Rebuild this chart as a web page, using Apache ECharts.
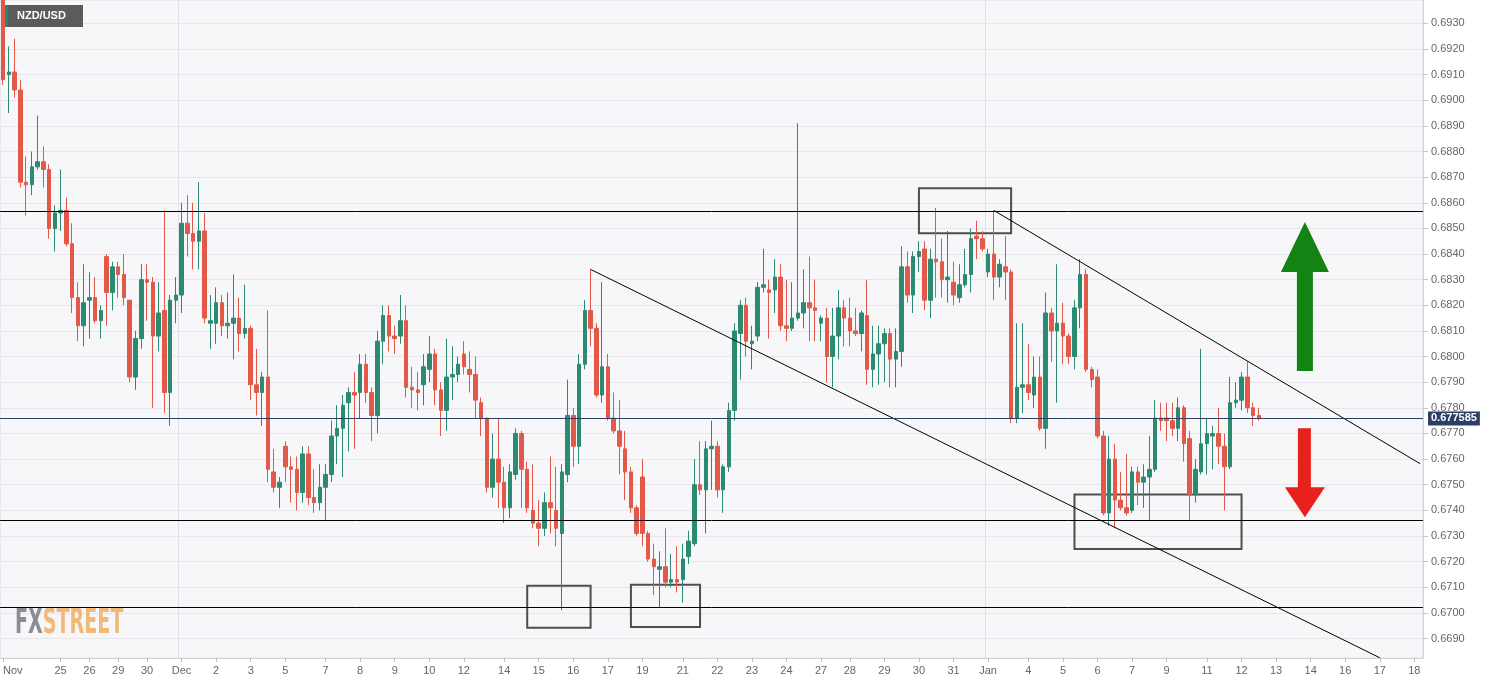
<!DOCTYPE html>
<html>
<head>
<meta charset="utf-8">
<script src="https://cdn.jsdelivr.net/npm/echarts@6.0.0/dist/echarts.min.js"></script>
<style>
html,body{margin:0;padding:0;background:#fff;}
#c{width:1501px;height:684px;}
</style>
</head>
<body>
<div id="c"></div>
<script>
// ---- DATA ----
const symbolName = 'NZD/USD';
const lastPrice = 0.677585;

const opens = [
0.6940,0.6910,0.6911,0.6904,0.6868,0.6867,0.6874,0.6876,0.6873,0.6850,
0.6856,0.6857,0.6844,0.6823,0.6812,0.6822,0.6823,0.6814,0.6839,0.6825,
0.6835,0.6832,0.6822,0.6792,0.6807,0.6830,0.6829,0.6808,0.6818,0.6786,
0.6822,0.6824,0.6852,0.6848,0.6845,0.6849,0.6813,0.6813,0.6821,0.6812,
0.6813,0.6815,0.6809,0.6811,0.6789,0.6786,0.6792,0.6755,0.6749,0.6765,
0.6757,0.6756,0.6747,0.6762,0.6745,0.6743,0.6749,0.6754,0.6769,0.6772,
0.6782,0.6786,0.6786,0.6797,0.6786,0.6777,0.6806,0.6816,0.6808,0.6808,
0.6814,0.6788,0.6787,0.6789,0.6795,0.6801,0.6787,0.6779,0.6792,0.6793,
0.6801,0.6795,0.6793,0.6782,0.6776,0.6749,0.6760,0.6751,0.6741,0.6754,
0.6770,0.6756,0.6740,0.6735,0.6733,0.6743,0.6740,0.6731,0.6754,0.6777,
0.6765,0.6797,0.6818,0.6811,0.6785,0.6796,0.6776,0.6771,0.6764,0.6755,
0.6741,0.6753,0.6731,0.6721,0.6717,0.6718,0.6712,0.6713,0.6713,0.6722,
0.6727,0.6750,0.6748,0.6764,0.6765,0.6748,0.6757,0.6779,0.6809,0.6820,
0.6805,0.6808,0.6827,0.6826,0.6826,0.6831,0.6812,0.6811,0.6815,0.6817,
0.6821,0.6819,0.6813,0.6815,0.6800,0.6808,0.6819,0.6815,0.6810,0.6809,
0.6816,0.6795,0.6801,0.6805,0.6809,0.6799,0.6802,0.6835,0.6824,0.6839,
0.6842,0.6822,0.6838,0.6837,0.6830,0.6829,0.6823,0.6828,0.6832,0.6847,
0.6846,0.6833,0.6840,0.6831,0.6835,0.6833,0.6776,0.6788,0.6789,0.6785,
0.6792,0.6772,0.6817,0.6810,0.6813,0.6808,0.6800,0.6819,0.6832,0.6795,
0.6792,0.6769,0.6739,0.6760,0.6744,0.6741,0.6740,0.6755,0.6751,0.6753,
0.6756,0.6776,0.6776,0.6775,0.6772,0.6780,0.6768,0.6746,0.6755,0.6766,
0.6769,0.6770,0.6765,0.6757,0.6782,0.6783,0.6792,0.6780,0.6777
];
const highs = [
0.6942,0.6921,0.6924,0.6908,0.6878,0.6880,0.6894,0.6882,0.6875,0.6859,
0.6873,0.6862,0.6852,0.6829,0.6836,0.6833,0.6831,0.6820,0.6840,0.6837,
0.6837,0.6840,0.6822,0.6810,0.6836,0.6836,0.6831,0.6829,0.6857,0.6824,
0.6831,0.6860,0.6863,0.6860,0.6868,0.6856,0.6824,0.6827,0.6824,0.6825,
0.6832,0.6823,0.6828,0.6812,0.6803,0.6794,0.6818,0.6764,0.6753,0.6767,
0.6761,0.6761,0.6765,0.6765,0.6756,0.6758,0.6758,0.6775,0.6781,0.6785,
0.6788,0.6794,0.6801,0.6801,0.6788,0.6810,0.6820,0.6820,0.6812,0.6824,
0.6820,0.6796,0.6794,0.6801,0.6808,0.6803,0.6790,0.6807,0.6804,0.6800,
0.6806,0.6802,0.6800,0.6784,0.6776,0.6770,0.6776,0.6757,0.6758,0.6772,
0.6771,0.6759,0.6758,0.6744,0.6747,0.6761,0.6757,0.6758,0.6791,0.6780,
0.6801,0.6822,0.6834,0.6813,0.6829,0.6801,0.6786,0.6783,0.6771,0.6757,
0.6742,0.6760,0.6732,0.6727,0.6724,0.6733,0.6723,0.6726,0.6727,0.6732,
0.6760,0.6767,0.6767,0.6775,0.6767,0.6758,0.6782,0.6813,0.6822,0.6823,
0.6812,0.6829,0.6842,0.6830,0.6838,0.6836,0.6830,0.6829,0.6891,0.6834,
0.6839,0.6830,0.6816,0.6819,0.6819,0.6826,0.6822,0.6823,0.6819,0.6818,
0.6830,0.6812,0.6812,0.6811,0.6811,0.6811,0.6843,0.6841,0.6841,0.6845,
0.6845,0.6842,0.6858,0.6846,0.6849,0.6837,0.6836,0.6842,0.6850,0.6853,
0.6849,0.6842,0.6857,0.6838,0.6847,0.6834,0.6813,0.6813,0.6805,0.6800,
0.6800,0.6825,0.6819,0.6836,0.6821,0.6809,0.6822,0.6838,0.6834,0.6796,
0.6795,0.6771,0.6769,0.6766,0.6755,0.6762,0.6757,0.6757,0.6758,0.6769,
0.6783,0.6782,0.6782,0.6782,0.6784,0.6781,0.6771,0.6760,0.6803,0.6776,
0.6773,0.6780,0.6770,0.6792,0.6790,0.6794,0.6798,0.6782,0.6780
];
const lows = [
0.6906,0.6895,0.6901,0.6866,0.6855,0.6863,0.6873,0.6866,0.6846,0.6841,
0.6849,0.6843,0.6817,0.6806,0.6804,0.6807,0.6813,0.6807,0.6812,0.6818,
0.6823,0.6820,0.6790,0.6787,0.6803,0.6814,0.6780,0.6802,0.6778,0.6773,
0.6813,0.6817,0.6839,0.6834,0.6834,0.6813,0.6803,0.6805,0.6808,0.6807,
0.6799,0.6802,0.6807,0.6783,0.6777,0.6773,0.6751,0.6747,0.6741,0.6751,
0.6743,0.6740,0.6743,0.6742,0.6739,0.6740,0.6736,0.6751,0.6758,0.6753,
0.6763,0.6764,0.6776,0.6782,0.6767,0.6770,0.6797,0.6802,0.6801,0.6805,
0.6784,0.6780,0.6779,0.6781,0.6790,0.6781,0.6769,0.6771,0.6783,0.6790,
0.6793,0.6786,0.6776,0.6769,0.6747,0.6745,0.6741,0.6735,0.6737,0.6752,
0.6741,0.6739,0.6733,0.6726,0.6730,0.6731,0.6726,0.6701,0.6751,0.6757,
0.6758,0.6795,0.6804,0.6784,0.6782,0.6775,0.6770,0.6754,0.6744,0.6739,
0.6730,0.6726,0.6720,0.6707,0.6702,0.6710,0.6710,0.6708,0.6704,0.6719,
0.6726,0.6746,0.6731,0.6748,0.6745,0.6739,0.6755,0.6775,0.6791,0.6800,
0.6795,0.6806,0.6825,0.6807,0.6817,0.6810,0.6806,0.6810,0.6814,0.6811,
0.6806,0.6806,0.6806,0.6790,0.6788,0.6799,0.6804,0.6804,0.6808,0.6802,
0.6789,0.6788,0.6789,0.6790,0.6788,0.6788,0.6796,0.6821,0.6817,0.6833,
0.6818,0.6815,0.6823,0.6823,0.6821,0.6820,0.6821,0.6827,0.6825,0.6838,
0.6841,0.6831,0.6822,0.6827,0.6822,0.6774,0.6774,0.6778,0.6783,0.6780,
0.6771,0.6764,0.6798,0.6782,0.6797,0.6797,0.6795,0.6811,0.6794,0.6788,
0.6768,0.6738,0.6734,0.6733,0.6740,0.6738,0.6739,0.6742,0.6741,0.6736,
0.6755,0.6771,0.6767,0.6769,0.6767,0.6759,0.6736,0.6743,0.6754,0.6754,
0.6756,0.6758,0.6740,0.6756,0.6780,0.6779,0.6778,0.6773,0.6775
];
const closes = [
0.6908,0.6911,0.6904,0.6868,0.6867,0.6874,0.6876,0.6873,0.6850,0.6856,
0.6857,0.6844,0.6823,0.6812,0.6821,0.6823,0.6814,0.6818,0.6825,0.6835,
0.6832,0.6823,0.6792,0.6807,0.6830,0.6829,0.6808,0.6817,0.6786,0.6822,
0.6824,0.6852,0.6848,0.6845,0.6849,0.6815,0.6814,0.6821,0.6812,0.6813,
0.6815,0.6809,0.6811,0.6789,0.6786,0.6792,0.6756,0.6749,0.6751,0.6757,
0.6756,0.6747,0.6762,0.6745,0.6743,0.6749,0.6754,0.6769,0.6772,0.6781,
0.6786,0.6785,0.6797,0.6786,0.6777,0.6806,0.6816,0.6808,0.6807,0.6814,
0.6788,0.6787,0.6786,0.6796,0.6801,0.6787,0.6779,0.6792,0.6793,0.6797,
0.6796,0.6793,0.6783,0.6776,0.6749,0.6760,0.6751,0.6741,0.6755,0.6770,
0.6756,0.6741,0.6735,0.6733,0.6743,0.6741,0.6733,0.6755,0.6777,0.6765,
0.6797,0.6818,0.6811,0.6785,0.6796,0.6776,0.6771,0.6765,0.6755,0.6741,
0.6731,0.6731,0.6721,0.6718,0.6718,0.6712,0.6713,0.6712,0.6721,0.6728,
0.6750,0.6748,0.6764,0.6765,0.6748,0.6757,0.6779,0.6810,0.6820,0.6806,
0.6806,0.6827,0.6828,0.6825,0.6831,0.6812,0.6811,0.6815,0.6817,0.6821,
0.6819,0.6818,0.6815,0.6800,0.6808,0.6819,0.6815,0.6810,0.6809,0.6817,
0.6795,0.6801,0.6805,0.6809,0.6799,0.6802,0.6835,0.6824,0.6839,0.6841,
0.6822,0.6838,0.6837,0.6830,0.6831,0.6824,0.6828,0.6832,0.6846,0.6846,
0.6842,0.6840,0.6831,0.6836,0.6833,0.6776,0.6788,0.6789,0.6786,0.6792,
0.6772,0.6817,0.6810,0.6813,0.6808,0.6800,0.6819,0.6832,0.6795,0.6791,
0.6769,0.6739,0.6760,0.6744,0.6741,0.6739,0.6755,0.6751,0.6753,0.6756,
0.6776,0.6775,0.6775,0.6772,0.6780,0.6766,0.6746,0.6756,0.6766,0.6770,
0.6770,0.6765,0.6757,0.6782,0.6783,0.6792,0.6780,0.6777,0.677585
];

// x axis: one slot per 4-hour bar, including empty future slots
const slotCount = 247;
const tickSlots  = [0,10,15,20,25,31,37,43,49,56,62,68,74,80,87,93,99,105,111,118,124,130,136,142,147,153,159,165,171,178,184,190,196,202,209,215,221,227,233,239,245];
const tickLabels = ['Nov','25','26','29','30','Dec','2','3','5','7','8','9','10','12','14','15','16','17','19','21','22','23','24','27','28','29','30','31','Jan','4','5','6','7','9','11','12','13','14','16','17','18'];
const monthLabels = ['Dec','Jan'];

// y axis
const yTicks = [0.6690,0.6700,0.6710,0.6720,0.6730,0.6740,0.6750,0.6760,0.6770,0.6780,0.6790,0.6800,0.6810,0.6820,0.6830,0.6840,0.6850,0.6860,0.6870,0.6880,0.6890,0.6900,0.6910,0.6920,0.6930];
const yMin = 0.66824, yMax = 0.69391;

// annotations (data coordinates: [slot, price])
const levels = [0.68567, 0.67361, 0.67022];
const trendLines = [[102, 0.6834, 239, 0.66825], [172, 0.6857, 246, 0.67582]];
const boxes = [[159, 0.68657, 175, 0.68481], [186, 0.67462, 215, 0.67249], [91, 0.67106, 102, 0.66942], [109, 0.67110, 121, 0.66945]];
const upArrow = [226, 0.68234];
const downArrow = [226, 0.67547];

// ---- BUILD ----
const categories = new Array(slotCount).fill('');
tickSlots.forEach((s, i) => { categories[s] = tickLabels[i]; });
const candles = opens.map((o, i) => [o, closes[i], lows[i], highs[i]]);

const GREEN = '#2b8a72', RED = '#e2594a';

const chart = echarts.init(document.getElementById('c'));
chart.setOption({
  animation: false,
  backgroundColor: '#ffffff',
  grid: {left: -2.9, right: 78, top: 0, bottom: 26, show: true, backgroundColor: '#f7f7f9', borderColor: '#dedee8', borderWidth: 1},
  xAxis: {
    type: 'category', data: categories, boundaryGap: true,
    axisLine: {show: true, lineStyle: {color: '#d2d2de'}},
    axisTick: {show: true, alignWithLabel: true, interval: (i, v) => v !== '', length: 4, lineStyle: {color: '#bdbdc8'}},
    axisLabel: {interval: 0, color: '#666666', fontSize: 11, fontFamily: 'Liberation Sans, Arial, sans-serif', margin: 7, alignMinLabel: 'left'},
    splitLine: {show: true, interval: (i, v) => monthLabels.indexOf(v) >= 0, lineStyle: {color: '#e0e0e8', width: 1}}
  },
  yAxis: {
    type: 'value', position: 'right', min: yMin, max: yMax, scale: true,
    axisLine: {show: true, lineStyle: {color: '#d2d2de'}},
    axisTick: {show: true, length: 5, customValues: yTicks, lineStyle: {color: '#c4c4ce'}},
    axisLabel: {customValues: yTicks, formatter: v => v.toFixed(4), color: '#666666', fontSize: 11, fontFamily: 'Liberation Sans, Arial, sans-serif', margin: 8},
    splitLine: {show: true, lineStyle: {color: '#e6e6eb', width: 1}}
  },
  graphic: [
    {type: 'rect', left: 5, top: 5, z: 100, shape: {width: 78, height: 22}, style: {fill: '#5b5b5b'}},
    {type: 'rect', left: 5, top: 5, z: 101, shape: {width: 3, height: 22}, style: {fill: '#1f8a78'}},
    {type: 'text', left: 17, top: 10, z: 102, style: {text: symbolName, fill: '#ffffff', font: 'bold 11px "Liberation Sans", Arial, sans-serif'}},
    {type: 'text', left: 15, top: 606, z: 1, scaleX: 0.59, style: {
      text: '{a|FX}{b|STREET}',
      rich: {
        a: {fill: '#8c8c95', font: 'bold 36px "DejaVu Sans Condensed", "DejaVu Sans", sans-serif'},
        b: {fill: '#f1b978', font: 'bold 36px "DejaVu Sans Condensed", "DejaVu Sans", sans-serif'}
      }
    }}
  ],
  series: [{
    type: 'candlestick',
    data: candles,
    barWidth: 4,
    itemStyle: {color: GREEN, color0: RED, borderColor: GREEN, borderColor0: RED, borderWidth: 1},
    emphasis: {disabled: true},
    markLine: {
      silent: true, symbol: ['none', 'none'], animation: false, precision: 6,
      label: {show: false},
      emphasis: {disabled: true},
      lineStyle: {color: '#000000', width: 1, type: 'solid'},
      data: [
        ...levels.map(v => ({yAxis: v})),
        ...trendLines.map(t => [{coord: [t[0], t[1]]}, {coord: [t[2], t[3]]}]),
        {yAxis: lastPrice, lineStyle: {color: '#2c3f66', width: 1, type: 'solid'},
         label: {show: true, position: 'end', formatter: lastPrice.toFixed(6), color: '#ffffff', backgroundColor: '#2c3f66',
                 fontWeight: 'bold', fontSize: 11, fontFamily: 'Liberation Sans, Arial, sans-serif', padding: [2, 3, 1, 3], distance: 5}}
      ]
    },
    markArea: {
      silent: true,
      itemStyle: {color: 'rgba(0,0,0,0)', borderColor: '#4e4e4e', borderWidth: 2},
      emphasis: {disabled: true},
      data: boxes.map(b => [{coord: [b[0], b[1]]}, {coord: [b[2], b[3]]}])
    },
    markPoint: {
      silent: true, label: {show: false}, animation: false,
      emphasis: {disabled: true},
      data: [
        {coord: upArrow, symbol: 'path://M24,0 L48,50 L32,50 L32,149 L16,149 L16,50 L0,50 Z', symbolSize: [48, 149], symbolKeepAspect: false, itemStyle: {color: '#138313'}},
        {coord: downArrow, symbol: 'path://M13,0 L26,0 L26,59 L40,59 L20,89 L0,59 L13,59 Z', symbolSize: [40, 89], symbolKeepAspect: false, itemStyle: {color: '#e8211d'}}
      ]
    }
  }]
});
</script>
</body>
</html>
